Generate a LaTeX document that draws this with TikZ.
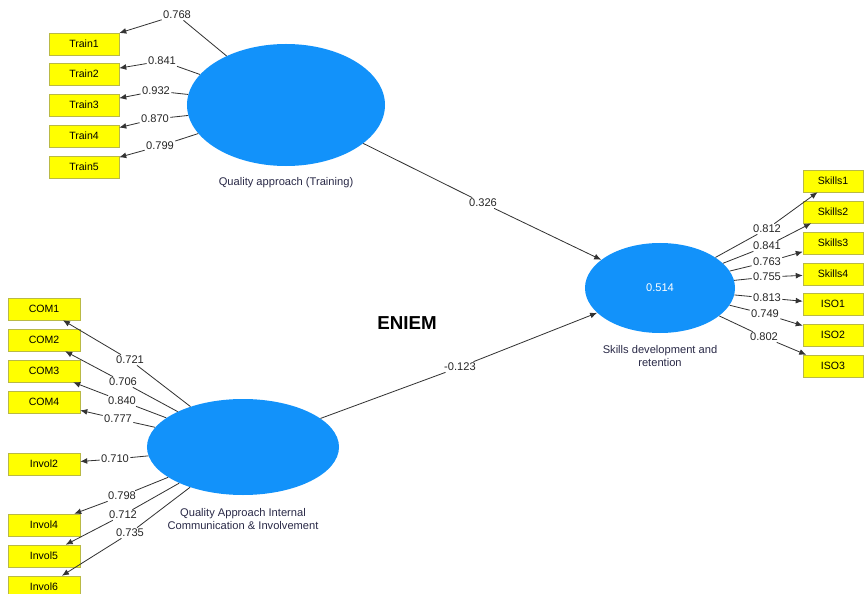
\documentclass[tikz,border=0pt]{standalone}
\usepackage{fontspec}
\setmainfont{Liberation Sans}
\usepackage{tikz}
\usetikzlibrary{shapes,arrows.meta}
\definecolor{lvblue}{RGB}{18,146,250}
\definecolor{indyellow}{RGB}{255,255,0}
\definecolor{indline}{RGB}{185,185,70}
\definecolor{lvtext}{RGB}{40,40,70}
\tikzset{ind/.style={draw=indline,fill=indyellow,rectangle,minimum width=2.1cm,
minimum height=0.66cm,inner sep=0pt,text=black,font=\fontsize{9}{10}\selectfont},
lv/.style={fill=lvblue,ellipse,inner sep=0pt,text=white,font=\fontsize{9.5}{11}\selectfont},
lvname/.style={text=lvtext,align=center,font=\fontsize{9.5}{11.5}\selectfont},
wt/.style={inner sep=1pt,text=black!85,font=\fontsize{9.5}{10}\selectfont},
ld/.style={draw=black!80,line width=0.7pt},
ar/.style={ld,-{Latex[length=6pt,width=5pt]}}}

\begin{document}
\begin{tikzpicture}[x=0.03cm,y=-0.03cm]
		\useasboundingbox (0,0) rectangle (865,594);
		% latent variables
		\node[lv,minimum width=5.94cm,minimum height=3.66cm] (qt) at (286,105) {};
		\node[lv,minimum width=5.76cm,minimum height=2.88cm] (ql) at (243,447) {};
		\node[lv,minimum width=4.5cm,minimum height=2.7cm] (sk) at (660,288) {0.514};
		\node[lvname] (qtname) at (286,183) {Quality approach (Training)};
		\node[lvname] (qlname) at (243,519) {Quality Approach Internal\\Communication \& Involvement};
		\node[lvname] (skname) at (660,356) {Skills development and\\retention};
		\node[font=\bfseries\fontsize{16}{18}\selectfont] (title) at (407,323) {ENIEM};
		% indicators
		\node[ind] (Train1) at (84,44) {Train1};
		\node[ind] (Train2) at (84,74) {Train2};
		\node[ind] (Train3) at (84,105) {Train3};
		\node[ind] (Train4) at (84,136) {Train4};
		\node[ind] (Train5) at (84,167) {Train5};
		\node[ind,minimum width=2.16cm] (COM1) at (44,309) {COM1};
		\node[ind,minimum width=2.16cm] (COM2) at (44,340) {COM2};
		\node[ind,minimum width=2.16cm] (COM3) at (44,371) {COM3};
		\node[ind,minimum width=2.16cm] (COM4) at (44,402) {COM4};
		\node[ind,minimum width=2.16cm] (Invol2) at (44,464) {Invol2};
		\node[ind,minimum width=2.16cm] (Invol4) at (44,525) {Invol4};
		\node[ind,minimum width=2.16cm] (Invol5) at (44,556) {Invol5};
		\node[ind,minimum width=2.16cm] (Invol6) at (44,587) {Invol6};
		\node[ind,minimum width=1.8cm] (Skills1) at (833,181) {Skills1};
		\node[ind,minimum width=1.8cm] (Skills2) at (833,212) {Skills2};
		\node[ind,minimum width=1.8cm] (Skills3) at (833,243) {Skills3};
		\node[ind,minimum width=1.8cm] (Skills4) at (833,274) {Skills4};
		\node[ind,minimum width=1.8cm] (ISO1) at (833,304) {ISO1};
		\node[ind,minimum width=1.8cm] (ISO2) at (833,335) {ISO2};
		\node[ind,minimum width=1.8cm] (ISO3) at (833,366) {ISO3};
		% outer loadings
		\node[wt] (t1) at (177,15) {0.768};
		\node[wt] (t2) at (162,61) {0.841};
		\node[wt] (t3) at (156,91) {0.932};
		\node[wt] (t4) at (155,119) {0.870};
		\node[wt] (t5) at (160,146) {0.799};
		\node[wt] (c1) at (130,360) {0.721};
		\node[wt] (c2) at (123,382) {0.706};
		\node[wt] (c3) at (122,401) {0.840};
		\node[wt] (c4) at (118,419) {0.777};
		\node[wt] (i2) at (115,459) {0.710};
		\node[wt] (i4) at (122,496) {0.798};
		\node[wt] (i5) at (123,515) {0.712};
		\node[wt] (i6) at (130,533) {0.735};
		\node[wt] (s1) at (767,229) {0.812};
		\node[wt] (s2) at (767,246) {0.841};
		\node[wt] (s3) at (767,262) {0.763};
		\node[wt] (s4) at (767,277) {0.755};
		\node[wt] (o1) at (767,298) {0.813};
		\node[wt] (o2) at (765,314) {0.749};
		\node[wt] (o3) at (764,337) {0.802};
		% path coefficients
		\node[wt] (p1) at (483,203) {0.326};
		\node[wt] (p2) at (460,367) {-0.123};
		% connectors
		\draw[ld] (qt) -- (t1); \draw[ar] (t1) -- (Train1);
		\draw[ld] (qt) -- (t2); \draw[ar] (t2) -- (Train2);
		\draw[ld] (qt) -- (t3); \draw[ar] (t3) -- (Train3);
		\draw[ld] (qt) -- (t4); \draw[ar] (t4) -- (Train4);
		\draw[ld] (qt) -- (t5); \draw[ar] (t5) -- (Train5);
		\draw[ld] (ql) -- (c1); \draw[ar] (c1) -- (COM1);
		\draw[ld] (ql) -- (c2); \draw[ar] (c2) -- (COM2);
		\draw[ld] (ql) -- (c3); \draw[ar] (c3) -- (COM3);
		\draw[ld] (ql) -- (c4); \draw[ar] (c4) -- (COM4);
		\draw[ld] (ql) -- (i2); \draw[ar] (i2) -- (Invol2);
		\draw[ld] (ql) -- (i4); \draw[ar] (i4) -- (Invol4);
		\draw[ld] (ql) -- (i5); \draw[ar] (i5) -- (Invol5);
		\draw[ld] (ql) -- (i6); \draw[ar] (i6) -- (Invol6);
		\draw[ld] (sk) -- (s1); \draw[ar] (s1) -- (Skills1);
		\draw[ld] (sk) -- (s2); \draw[ar] (s2) -- (Skills2);
		\draw[ld] (sk) -- (s3); \draw[ar] (s3) -- (Skills3);
		\draw[ld] (sk) -- (s4); \draw[ar] (s4) -- (Skills4);
		\draw[ld] (sk) -- (o1); \draw[ar] (o1) -- (ISO1);
		\draw[ld] (sk) -- (o2); \draw[ar] (o2) -- (ISO2);
		\draw[ld] (sk) -- (o3); \draw[ar] (o3) -- (ISO3);
		\draw[ld] (qt) -- (p1); \draw[ar] (p1) -- (sk);
		\draw[ld] (ql) -- (p2); \draw[ar] (p2) -- (sk);
	\end{tikzpicture}
\end{document}
